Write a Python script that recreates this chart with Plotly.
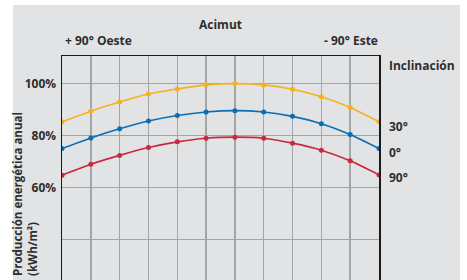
import plotly.graph_objects as go

# Data (relative annual energy production, %)
azimut_pos = list(range(12))  # from +90° Oeste (left) to -90° Este (right)
incl_30 = [85.3, 89.4, 92.9, 96.0, 97.9, 99.5, 100.0, 99.5, 97.8, 94.9, 90.8, 85.3]
incl_0 = [75.0, 79.1, 82.6, 85.6, 87.7, 89.1, 89.6, 89.1, 87.4, 84.6, 80.4, 75.0]
incl_90 = [64.8, 69.0, 72.4, 75.4, 77.6, 79.0, 79.4, 79.0, 77.1, 74.4, 70.3, 64.9]
series_names = ["30°", "0°", "90°"]
colors = ["#f5b21c", "#0b6db4", "#c9283e"]
y_tickvals = [20, 40, 60, 80, 100]
y_ticktext = ["", "", "60%", "80%", "100%"]

W, H = 467, 280
L, R, T, B = 62, 88, 56, 0
pw, ph = W - L - R, H - T - B

def px_x(x):
    return (x - L) / pw

def px_y(y):
    return (H - B - y) / ph

BG = "#e2e3e5"
TXT = "#2e2e2e"
FONT = "Open Sans"

fig = go.Figure()
for name, vals, c in zip(series_names, [incl_30, incl_0, incl_90], colors):
    fig.add_trace(go.Scatter(
        x=azimut_pos, y=vals, mode="lines+markers", name=name,
        line=dict(color=c, width=1.6, shape="spline", smoothing=0.6),
        marker=dict(color=c, size=5),
        showlegend=False, hoverinfo="skip"))

fig.update_layout(
    width=W, height=H,
    margin=dict(l=L, r=R, t=T, b=B, pad=0),
    paper_bgcolor="white",
    plot_bgcolor=BG,
    font=dict(family=FONT, size=12, color=TXT),
    xaxis=dict(range=[0, 11], dtick=1, tick0=0, showgrid=True,
               gridcolor="#a3a5a8", gridwidth=1.4, zeroline=False,
               showticklabels=False, ticks="", side="top",
               showline=True, linecolor="#1a1a1a", linewidth=1.5),
    yaxis=dict(range=[24.5, 110.6], tickvals=y_tickvals, ticktext=y_ticktext,
               showgrid=True, gridcolor="#a3a5a8", gridwidth=1.4, zeroline=False,
               ticks="", showline=True, mirror=True, linecolor="#1a1a1a",
               linewidth=1.5, tickfont=dict(family=FONT, size=12, color=TXT,
                                            weight="bold"),
               ticklabelstandoff=2),
)

# grey panel behind everything
fig.add_shape(type="rect", xref="paper", yref="paper", layer="below",
              x0=px_x(13), x1=px_x(460), y0=px_y(300), y1=px_y(5),
              fillcolor=BG, line=dict(width=0))

bold = dict(family=FONT, size=12, color=TXT, weight="bold")
def ann(text, x, y, xanchor="left", yanchor="middle", **kw):
    fig.add_annotation(text=text, xref="paper", yref="paper",
                       x=px_x(x), y=px_y(y), xanchor=xanchor, yanchor=yanchor,
                       showarrow=False, font=bold, **kw)

ann("Acimut", 220.5, 25, xanchor="center")
ann("+ 90° Oeste", 63, 41)
ann("- 90° Este", 380, 41, xanchor="right")
ann("Inclinación", 387, 66)
ann("30°", 387, 126)
ann("0°", 387, 152)
ann("90°", 387, 177)

fig.add_annotation(text="Producción energética anual<br>(kWh/m²)",
                   xref="paper", yref="paper", x=px_x(25), y=px_y(278),
                   xanchor="center", yanchor="bottom", textangle=-90,
                   align="left", showarrow=False,
                   font=dict(family=FONT, size=11.5, color=TXT, weight="bold"))

fig.write_html("out.html",
               config={"displayModeBar": False, "staticPlot": True},
               post_script="document.body.style.margin='0';"
                           "document.body.style.overflow='hidden';")
